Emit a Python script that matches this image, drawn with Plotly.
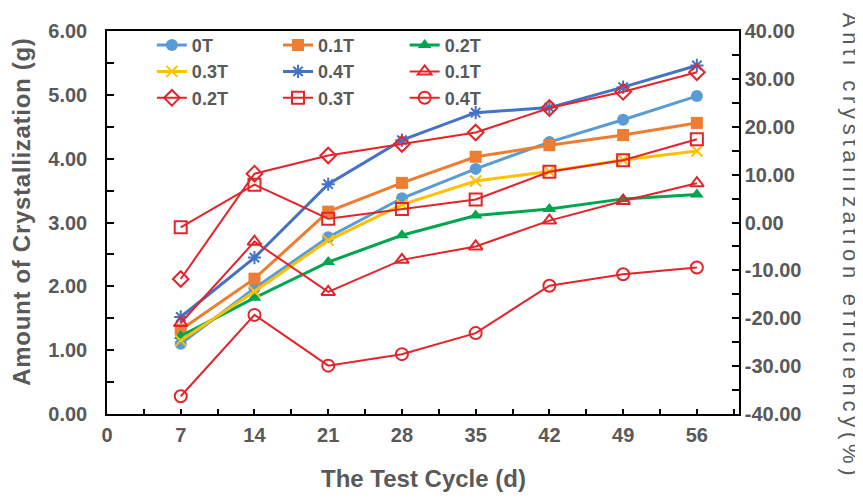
import plotly.graph_objects as go

days = [7, 14, 21, 28, 35, 42, 49, 56]

# Amount of crystallization (g) - left axis
amt_0T = [1.10, 1.97, 2.77, 3.38, 3.84, 4.26, 4.61, 4.98]
amt_01T = [1.32, 2.12, 3.17, 3.62, 4.03, 4.21, 4.37, 4.56]
amt_02T = [1.22, 1.82, 2.38, 2.80, 3.11, 3.21, 3.37, 3.44]
amt_03T = [1.15, 1.92, 2.72, 3.28, 3.65, 3.80, 3.98, 4.12]
amt_04T = [1.52, 2.45, 3.60, 4.29, 4.72, 4.80, 5.12, 5.46]

# Anti crystallization efficiency (%) - right axis
eff_01T = [-21.0, -4.0, -14.5, -7.8, -5.0, 0.4, 4.5, 8.2]
eff_02T = [-11.8, 10.2, 14.0, 16.4, 18.8, 23.9, 27.3, 31.4]
eff_03T = [-1.0, 7.9, 0.8, 2.8, 4.8, 10.6, 13.0, 17.4]
eff_04T = [-36.3, -19.3, -29.9, -27.5, -23.1, -13.2, -10.8, -9.4]

x_ticks = [0, 7, 14, 21, 28, 35, 42, 49, 56]
y_ticks = [0, 1, 2, 3, 4, 5, 6]
y2_ticks = [-40, -30, -20, -10, 0, 10, 20, 30, 40]

GRAY = "#595959"
RED = "#E3242B"
FONT = "Liberation Sans, Arial, sans-serif"

left_series = [
    ("0T", amt_0T, "#5B9BD5", "circle"),
    ("0.1T", amt_01T, "#ED7D31", "square"),
    ("0.2T", amt_02T, "#00A550", "triangle-up"),
    ("0.3T", amt_03T, "#FFC000", "x-thin"),
    ("0.4T", amt_04T, "#4472C4", "asterisk"),
]
right_series = [
    ("0.1T", eff_01T, "triangle-up-open"),
    ("0.2T", eff_02T, "diamond-open"),
    ("0.3T", eff_03T, "square-open"),
    ("0.4T", eff_04T, "circle-open"),
]

legends = ["legend", "legend2", "legend3"]
fig = go.Figure()
idx = 0
for name, vals, col, sym in left_series:
    thin = sym in ("x-thin", "asterisk")
    fig.add_trace(go.Scatter(
        x=days, y=vals, name=name, mode="lines+markers",
        line=dict(color=col, width=3),
        marker=dict(symbol=sym, size=12 if not thin else 11, color=col,
                    line=dict(color=col, width=2 if thin else 0)),
        legend=legends[idx % 3], legendgroup=f"g{idx}",
    ))
    idx += 1
for name, vals, sym in right_series:
    fig.add_trace(go.Scatter(
        x=days, y=vals, name=name, mode="lines+markers", yaxis="y2",
        line=dict(color=RED, width=2),
        marker=dict(symbol=sym, size=12, color=RED, line=dict(color=RED, width=2)),
        legend=legends[idx % 3], legendgroup=f"g{idx}",
    ))
    idx += 1

tickfont = dict(family=FONT, size=20, color=GRAY, weight="bold")
legfont = dict(family=FONT, size=18, color=GRAY, weight="bold")

def leg(xpos):
    return dict(x=xpos, y=1.011, xanchor="left", yanchor="top",
                bgcolor="rgba(0,0,0,0)", font=legfont,
                traceorder="normal", tracegroupgap=0, itemwidth=30)

# page body has an 8px default margin: the figure is sized/offset to compensate
fig.update_layout(
    width=855, height=492,
    margin=dict(l=99, r=124, t=12, b=86),
    paper_bgcolor="white", plot_bgcolor="white",
    showlegend=True,
    legend=leg(0.071), legend2=leg(0.2706), legend3=leg(0.471),
    xaxis=dict(
        range=[0, 60], tickmode="array", tickvals=x_ticks,
        ticktext=[str(v) for v in x_ticks],
        showline=True, linecolor="black", linewidth=1.5, mirror=True,
        ticks="inside", ticklen=5, tickcolor="black", tickwidth=1.5,
        minor=dict(ticks="inside", ticklen=5, dtick=3.5, tick0=0,
                   tickcolor="black", tickwidth=1.5, showgrid=False),
        showgrid=False, zeroline=False, tickfont=tickfont,
        ticklabelstandoff=2,
    ),
    yaxis=dict(
        range=[0, 6], tickmode="array", tickvals=y_ticks,
        ticktext=[f"{v:.2f}" for v in y_ticks],
        showline=True, linecolor="black", linewidth=1.5,
        ticks="inside", ticklen=7, tickcolor="black", tickwidth=1.5,
        minor=dict(ticks="inside", ticklen=7, dtick=0.5, tick0=0,
                   tickcolor="black", tickwidth=1.5, showgrid=False),
        showgrid=False, zeroline=False, tickfont=tickfont,
        ticklabelstandoff=14,
    ),
    yaxis2=dict(
        range=[-40, 40], overlaying="y", side="right",
        tickmode="array", tickvals=y2_ticks,
        ticktext=[f"{v:.2f}" for v in y2_ticks],
        showline=True, linecolor="black", linewidth=1.5,
        ticks="inside", ticklen=7, tickcolor="black", tickwidth=1.5,
        minor=dict(ticks="inside", ticklen=7, dtick=5, tick0=0,
                   tickcolor="black", tickwidth=1.5, showgrid=False),
        showgrid=False, zeroline=False, tickfont=tickfont,
    ),
    annotations=[
        dict(text='<span style="letter-spacing:0.7px">Amount of Crystallization (g)</span>',
             xref="paper", yref="paper", x=-0.1345, y=0.528, textangle=-90,
             showarrow=False, xanchor="center", yanchor="middle",
             font=dict(family=FONT, size=24, color=GRAY, weight="bold")),
        dict(text='<span style="letter-spacing:4.7px">Anti crystallization efficiency(%)</span>',
             xref="paper", yref="paper", x=1.177, y=0.437, textangle=90,
             showarrow=False, xanchor="center", yanchor="middle",
             font=dict(family=FONT, size=22, color=GRAY)),
        dict(text="The Test Cycle (d)",
             xref="paper", yref="paper", x=0.5, y=-0.168,
             showarrow=False, xanchor="center", yanchor="middle",
             font=dict(family=FONT, size=24, color=GRAY, weight="bold")),
    ],
)

fig.write_html("out.html")
